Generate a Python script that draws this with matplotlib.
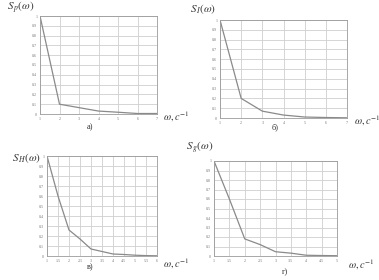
import matplotlib
matplotlib.use("Agg")
import matplotlib.pyplot as plt

plt.rcParams['mathtext.fontset'] = 'stix'
plt.rcParams['font.family'] = ['Liberation Serif', 'DejaVu Serif']

# spectra
w_a = [1, 2, 3, 4, 5, 6, 7]
s_a = [1.0, 0.1, 0.065, 0.03, 0.018, 0.005, 0.005]

w_b = [1, 2, 3, 4, 5, 6, 7]
s_b = [1.0, 0.2, 0.07, 0.03, 0.01, 0.005, 0.002]

w_c = [1, 1.5, 2, 2.5, 3, 3.5, 4, 4.5, 5, 5.5, 6]
s_c = [1.0, 0.6, 0.26, 0.17, 0.07, 0.045, 0.02, 0.015, 0.008, 0.004, 0.002]

w_d = [1, 1.5, 2, 2.5, 3, 3.5, 4, 4.5, 5]
s_d = [1.0, 0.6, 0.18, 0.12, 0.045, 0.03, 0.008, 0.005, 0.003]

W, H = 379, 280
panels = [
    # data, axes box in px (left, top, right, bottom), xticks, ylabel, ylabel pos, xlabel pos, letter, letter pos
    (w_a, s_a, (40, 16, 157, 114), [1, 2, 3, 4, 5, 6, 7], ['1', '2', '3', '4', '5', '6', '7'],
     r'$S_{\,p}(\omega)$', (7, 8), (163, 117), 'а)', (90, 127)),
    (w_b, s_b, (220, 20, 347, 118), [1, 2, 3, 4, 5, 6, 7], ['1', '2', '3', '4', '5', '6', '7'],
     r'$S_{\,I}(\omega)$', (190, 9), (354, 121), 'б)', (275, 127)),
    (w_c, s_c, (47, 156, 157, 256), [1, 1.5, 2, 2.5, 3, 3.5, 4, 4.5, 5, 5.5, 6],
     ['1', '1.5', '2', '2.5', '3', '3.5', '4', '4.5', '5', '5.5', '6'],
     r'$S_{\,H}(\omega)$', (12, 158), (163, 264), 'в)', (90, 267)),
    (w_d, s_d, (214, 161, 337, 256), [1, 1.5, 2, 2.5, 3, 3.5, 4, 4.5, 5],
     ['1', '1.5', '2', '2.5', '3', '3.5', '4', '4.5', '5'],
     r'$S_{\,g}(\omega)$', (186, 148), (348, 265), 'г)', (285, 272)),
]

yticks = [i / 10 for i in range(11)]
ylabels = ['0', '0.1', '0.2', '0.3', '0.4', '0.5', '0.6', '0.7', '0.8', '0.9', '1']

fig = plt.figure(figsize=(W / 100, H / 100), dpi=100)

for (x, y, box, xt, xtl, ylab, ylab_pos, xlab_pos, letter, letter_pos) in panels:
    l, t, r, b = box
    ax = fig.add_axes([l / W, 1 - b / H, (r - l) / W, (b - t) / H])
    ax.plot(x, y, color='#8a8a8a', lw=0.9)
    ax.set_xlim(xt[0], xt[-1])
    ax.set_ylim(0, 1)
    ax.set_xticks(xt)
    ax.set_xticklabels(xtl)
    ax.set_yticks(yticks)
    ax.set_yticklabels(ylabels)
    ax.tick_params(labelsize=3, length=0, pad=2, colors='#777777')
    ax.grid(True, color='#cfcfcf', lw=0.6)
    for sp in ax.spines.values():
        sp.set_color('#9a9a9a')
        sp.set_linewidth(0.6)

    fig.text(ylab_pos[0] / W, 1 - ylab_pos[1] / H, ylab, fontsize=8,
             color='#333333', ha='left', va='center')
    fig.text(xlab_pos[0] / W, 1 - xlab_pos[1] / H, r'$\omega,c^{-1}$', fontsize=7.5,
             color='#333333', ha='left', va='center')
    fig.text(letter_pos[0] / W, 1 - letter_pos[1] / H, letter, fontsize=6,
             color='#333333', ha='center', va='center')

fig.savefig('out.png', dpi=100)
